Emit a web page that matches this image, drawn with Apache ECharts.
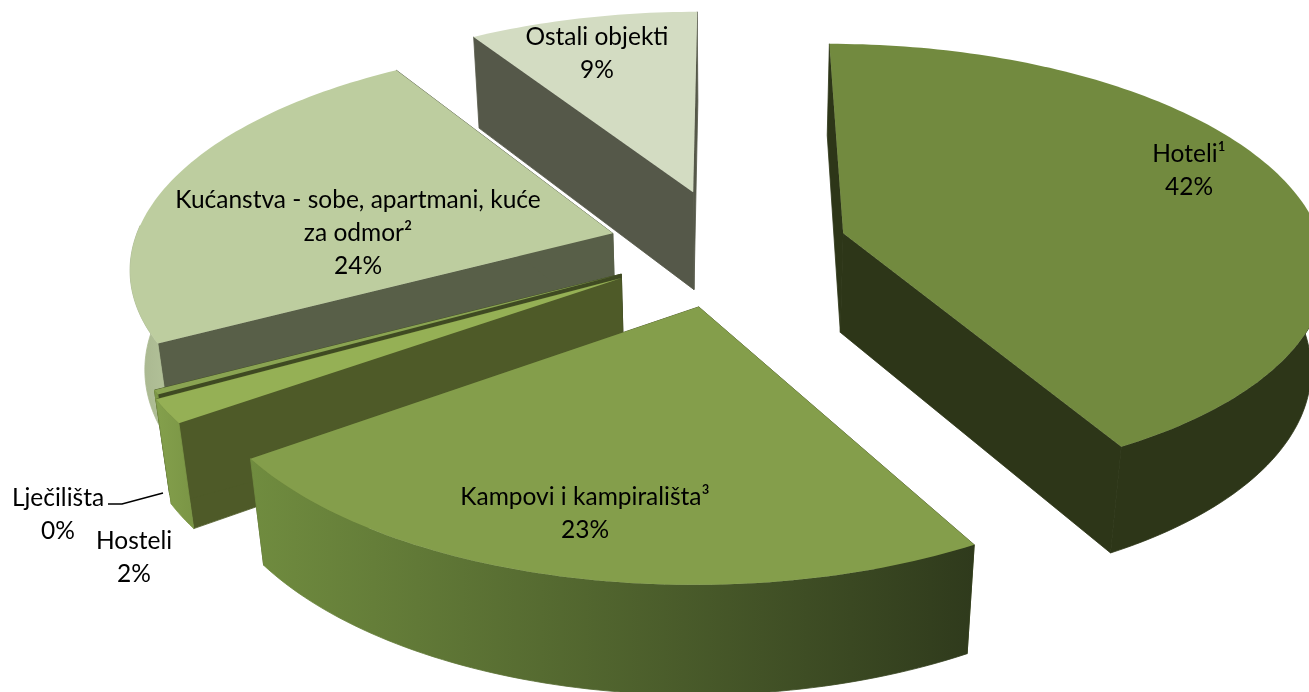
<!DOCTYPE html>
<html>
<head>
<meta charset="utf-8">
<style>
  html, body { margin: 0; padding: 0; background: #fff; }
  #main { width: 1309px; height: 692px; }
</style>
<script src="https://cdn.jsdelivr.net/npm/echarts@6/dist/echarts.min.js"></script>
</head>
<body>
<div id="main"></div>
<script>
// podaci
const names = ['Hoteli¹', 'Kampovi i kampirališta³', 'Hosteli', 'Lječilišta', 'Kućanstva - sobe, apartmani, kuće\nza odmor²', 'Ostali objekti'];
const values = [42, 23.2, 1.7, 0.3, 24, 9];

// izgled kriški: boja vrha, unutarnje stijene, vanjske stijene
const topColors = ['#728a3f', '#849e4b', '#95b055', '#8aa452', '#bdcd9f', '#d3dcc2'];
const cutColors = ['#2d3618', '#4e5a28', '#4e5a28', '#3f4a22', '#585f48', '#555849'];
const rimColors = [['#2d3618', '#2d3618'], ['#708c3f', '#2f3a1c'], ['#84a04c', '#7a9545'], ['#7f9a48', '#6f8a3e'], ['#a6b48d', '#b4c39a'], ['#b4c39a', '#b4c39a']];
const explode = [0.25, 0.27, 0.26, 0.25, 0.25, 0.27];
const radius = [1, 1.01, 1, 1, 1, 1];
const drawOrder = [5, 4, 3, 2, 0, 1];
const labelAnchors = [[1189, 171], [585, 514], [134, 558], [58, 515], [358, 233], [597, 54]];

// projekcija kruga na ravninu slike
const cx = 728, cy = 247, R = 480, kR = 219, p = 0.137, q = 0.025, D = 102;
function project(u, v, h) {
    const w = 1 + p * v + q * h;
    return [cx + R * u / w, cy + (-kR * v + D * h) / w];
}

const total = values.reduce((a, b) => a + b, 0);
const angles = [];
let acc = 0;
values.forEach(function (val) {
    const start = acc / total * Math.PI * 2;
    acc += val;
    angles.push([start, acc / total * Math.PI * 2]);
});

function renderSlice(params, api) {
    const i = params.dataIndex;
    const a0 = angles[i][0], a1 = angles[i][1];
    const mid = (a0 + a1) / 2;
    const ou = explode[i] * Math.sin(mid), ov = explode[i] * Math.cos(mid);
    const steps = Math.max(2, Math.ceil((a1 - a0) / 0.02));
    const topArc = [], botArc = [], rimTop = [], rimBot = [];
    for (let s = 0; s <= steps; s++) {
        const t = a0 + (a1 - a0) * s / steps;
        const a = project(ou + radius[i] * Math.sin(t), ov + radius[i] * Math.cos(t), 0);
        const b = project(ou + radius[i] * Math.sin(t), ov + radius[i] * Math.cos(t), 1);
        topArc.push(a);
        botArc.push(b);
        // stražnji dio ruba se ne vidi
        if (Math.cos(t) < 0.05) {
            rimTop.push(a);
            rimBot.push(b);
        }
    }
    const apexTop = project(ou, ov, 0), apexBot = project(ou, ov, 1);
    const base = drawOrder.indexOf(i) * 10;
    const last = topArc.length - 1;
    const wall = (points, fill, z) => ({ type: 'polygon', z2: base + z, shape: { points: points }, style: { fill: fill, stroke: fill, lineWidth: 0.8 } });
    const children = [
        wall([apexTop, topArc[0], botArc[0], apexBot], cutColors[i], 1),
        wall([apexTop, topArc[last], botArc[last], apexBot], cutColors[i], 1),
        { type: 'polygon', z2: base + 3, shape: { points: [apexTop].concat(topArc) }, style: { fill: topColors[i] } },
        {
            type: 'text', z2: 100,
            style: {
                x: labelAnchors[i][0], y: labelAnchors[i][1],
                text: names[i] + '\n' + Math.round(values[i]) + '%',
                fill: '#000', align: 'center', verticalAlign: 'middle',
                font: '24.5px Lato', lineHeight: 33
            }
        }
    ];
    if (rimTop.length > 1) {
        children.push(wall(rimTop.concat(rimBot.slice().reverse()), new echarts.graphic.LinearGradient(0, 0, 1, 0, [
            { offset: 0, color: rimColors[i][0] },
            { offset: 1, color: rimColors[i][1] }
        ]), 2));
    }
    return { type: 'group', children: children };
}

let myChart = echarts.init(document.getElementById('main'), null, { renderer: 'canvas' });
let option = {
    animation: false,
    backgroundColor: '#fff',
    series: [{
        type: 'custom',
        coordinateSystem: 'none',
        renderItem: renderSlice,
        data: values
    }],
    // linija do oznake Lječilišta
    graphic: [{
        type: 'polyline',
        z: 10,
        shape: { points: [[108, 504], [122, 504], [163, 493]] },
        style: { stroke: '#000', lineWidth: 1.5, fill: null }
    }]
};
myChart.setOption(option);
</script>
</body>
</html>
